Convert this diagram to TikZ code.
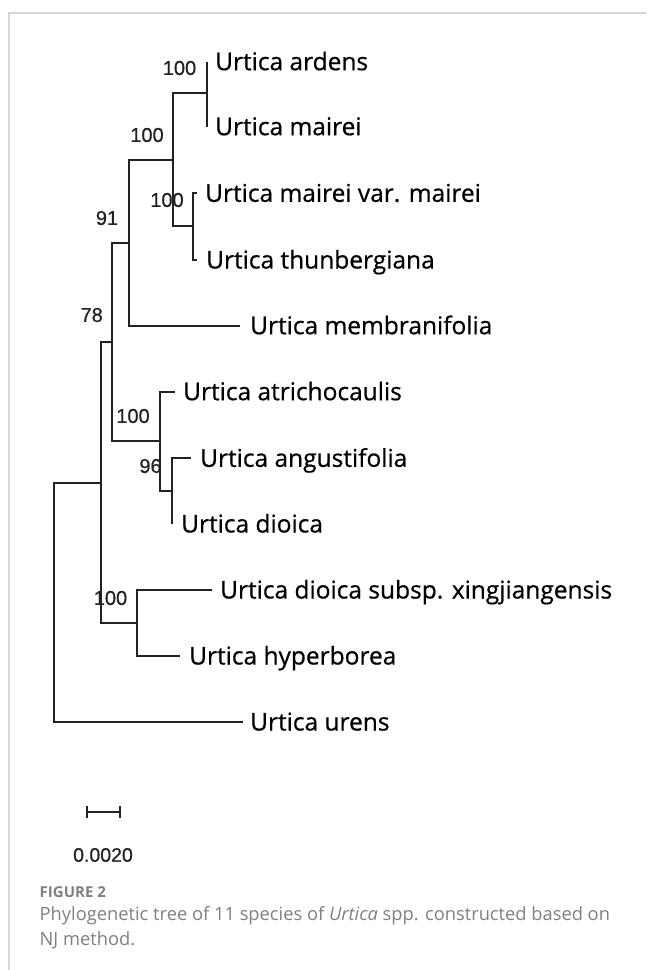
\documentclass[tikz,border=0pt]{standalone}
\usepackage{fontspec}
\setmainfont{Open Sans}
\newfontfamily\taxfont{Open Sans}[FakeBold=0.6]
\newfontfamily\numfont{Liberation Sans}[FakeBold=0.6]
\newfontfamily\capfont{Open Sans}
\definecolor{treec}{HTML}{222222}
\definecolor{framec}{HTML}{D6D6D6}
\definecolor{capc}{HTML}{808080}
\begin{document}
\begin{tikzpicture}[x=1pt,y=-1pt,
  branch/.style={draw=treec, line width=1.7pt},
  taxon/.style={anchor=base west, inner sep=0pt, text=black, font=\taxfont\fontsize{24.5}{28}\selectfont},
  boot/.style={anchor=center, inner sep=0pt, text=treec, font=\numfont\fontsize{20}{22}\selectfont},
  captxt/.style={anchor=base west, inner sep=0pt, text=capc, font=\capfont\fontsize{18.3}{22}\selectfont},
]
\useasboundingbox (0,0) rectangle (646,970);
\fill[white] (0,0) rectangle (646,970);
\draw[framec, line width=1.2pt] (9,970) -- (9,13) -- (646,13);

% tips
\coordinate (tArd) at (207.3,61.7);
\coordinate (tMai) at (207.3,126.7);
\coordinate (tMV)  at (197.3,193.3);
\coordinate (tThu) at (197.3,260);
\coordinate (tMem) at (240,325.7);
\coordinate (tAtr) at (175,391.7);
\coordinate (tAng) at (190.7,458.3);
\coordinate (tDio) at (172.3,524);
\coordinate (tXin) at (212,590);
\coordinate (tHyp) at (180,656);
\coordinate (tUre) at (243,722);

% internal nodes
\coordinate (nA) at (207.3,93.3);
\coordinate (nB) at (193.3,226);
\coordinate (nC) at (173.3,160);
\coordinate (nD) at (129.3,242.7);
\coordinate (nE) at (172.3,491);
\coordinate (nF) at (160,441);
\coordinate (nG) at (112.3,342);
\coordinate (nH) at (137.3,623.3);
\coordinate (nI) at (100.7,483);
\coordinate (nR) at (54.3,602);

% branches
\draw[branch] (nA) |- (tArd);
\draw[branch] (nA) |- (tMai);
\draw[branch] (nB) |- (tMV);
\draw[branch] (nB) |- (tThu);
\draw[branch] (nC) |- (nA);
\draw[branch] (nC) |- (nB);
\draw[branch] (nD) |- (nC);
\draw[branch] (nD) |- (tMem);
\draw[branch] (nE) |- (tAng);
\draw[branch] (nE) |- (tDio);
\draw[branch] (nF) |- (tAtr);
\draw[branch] (nF) |- (nE);
\draw[branch] (nG) |- (nD);
\draw[branch] (nG) |- (nF);
\draw[branch] (nH) |- (tXin);
\draw[branch] (nH) |- (tHyp);
\draw[branch] (nI) |- (nG);
\draw[branch] (nI) |- (nH);
\draw[branch] (nR) |- (nI);
\draw[branch] (nR) |- (tUre);

% taxa
\node[taxon] (lArd) at (215,70.2) {Urtica ardens};
\node[taxon] (lMai) at (215,135.2) {Urtica mairei};
\node[taxon] (lMV)  at (205,201.8) {Urtica mairei var. mairei};
\node[taxon] (lThu) at (206,268.5) {Urtica thunbergiana};
\node[taxon] (lMem) at (250,334.2) {Urtica membranifolia};
\node[taxon] (lAtr) at (183,400.2) {Urtica atrichocaulis};
\node[taxon] (lAng) at (200,466.8) {Urtica angustifolia};
\node[taxon] (lDio) at (181,532.5) {Urtica dioica};
\node[taxon] (lXin) at (220,598.5) {Urtica dioica subsp. xingjiangensis};
\node[taxon] (lHyp) at (189,664.5) {Urtica hyperborea};
\node[taxon] (lUre) at (250,730.5) {Urtica urens};

% bootstrap values
\node[boot] (bA) at (179.5,68) {100};
\node[boot] (bC) at (147,135) {100};
\node[boot] (bB) at (167,200) {100};
\node[boot] (bD) at (107,218) {91};
\node[boot] (bG) at (91.7,315) {78};
\node[boot] (bF) at (133,416) {100};
\node[boot] (bE) at (150.5,466) {96};
\node[boot] (bH) at (110.5,598) {100};

% scale bar
\coordinate (sL) at (87,812);
\coordinate (sR) at (120,812);
\draw[branch, line width=1.4pt] (sL) -- (sR);
\draw[branch, line width=1.4pt] ([yshift=-6pt]sL) -- ([yshift=6pt]sL);
\draw[branch, line width=1.4pt] ([yshift=-6pt]sR) -- ([yshift=6pt]sR);
\node[anchor=base, inner sep=0pt, text=treec, font=\numfont\fontsize{19.5}{22}\selectfont] (sLab) at (103,861.7) {0.0020};

% caption
\node[anchor=base west, inner sep=0pt, text=capc, font=\capfont\bfseries\fontsize{15}{18}\selectfont] (fig) at (39.5,897.7) {FIGURE 2};
\node[captxt] (cap1) at (39.5,920.7) {Phylogenetic tree of 11 species of \textit{Urtica} spp. constructed based on};
\node[captxt] (cap2) at (39.5,945.7) {NJ method.};
\end{tikzpicture}
\end{document}
